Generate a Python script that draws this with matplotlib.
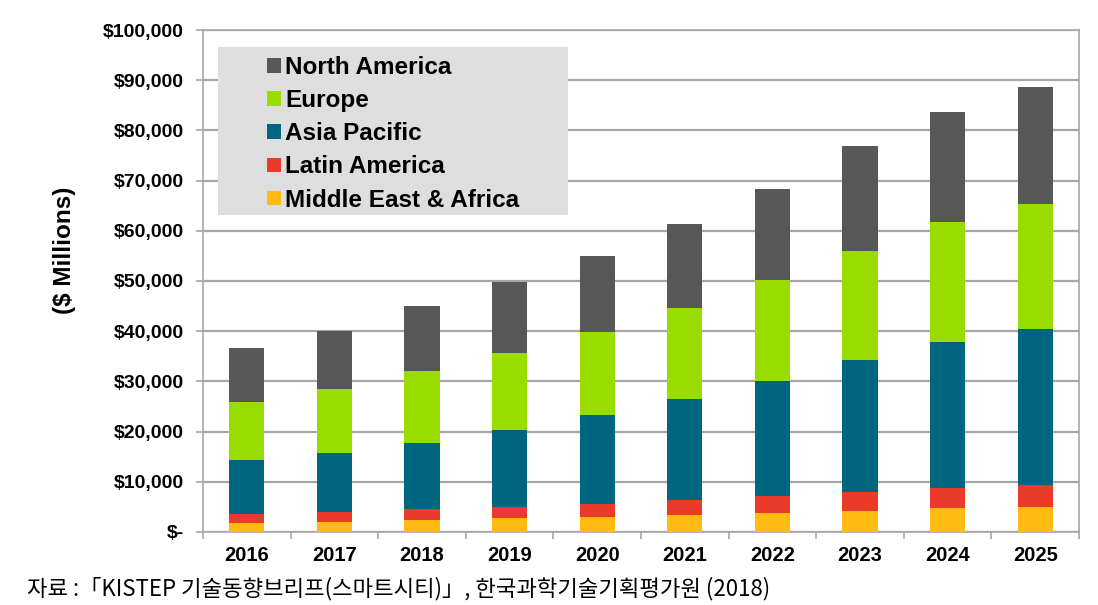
import matplotlib
matplotlib.use("Agg")
import matplotlib.pyplot as plt
from matplotlib.patches import Rectangle
from matplotlib.ticker import FuncFormatter, FixedLocator
import numpy as np

years = ["2016", "2017", "2018", "2019", "2020", "2021", "2022", "2023", "2024", "2025"]
mea = [1700, 2050, 2300, 2800, 3000, 3400, 3850, 4250, 4700, 4900]
latin = [1800, 1950, 2200, 2200, 2600, 3000, 3350, 3750, 4100, 4500]
asia = [10800, 11700, 13300, 15300, 17800, 20100, 22900, 26300, 29100, 31000]
europe = [11600, 12800, 14300, 15400, 16400, 18100, 20000, 21700, 23800, 24900]
north_america = [10800, 11500, 12900, 14100, 15200, 16700, 18200, 20800, 22000, 23300]

series = [
    ("Middle East & Africa", mea, "#ffbb11"),
    ("Latin America", latin, "#ea3a2a"),
    ("Asia Pacific", asia, "#00667f"),
    ("Europe", europe, "#99dd00"),
    ("North America", north_america, "#575757"),
]

caption = "자료 :「KISTEP 기술동향브리프(스마트시티)」, 한국과학기술기획평가원 (2018)"

fig = plt.figure(figsize=(10.98, 6.05), dpi=100)
ax = fig.add_axes([203 / 1098, 1 - 532 / 605, (1079 - 203) / 1098, (532 - 30) / 605])

x = np.arange(len(years))
bottom = np.zeros(len(years))
handles = {}
for name, vals, color in series:
    b = ax.bar(x, vals, 0.4, bottom=bottom, color=color, edgecolor="none", label=name, zorder=3)
    handles[name] = b
    bottom += np.array(vals)

ax.set_xlim(-0.5, len(years) - 0.5)
ax.set_ylim(0, 100000)
ax.set_yticks(np.arange(0, 100001, 10000))
ax.yaxis.set_major_formatter(FuncFormatter(lambda v, p: "$-" if v == 0 else "${:,.0f}".format(v)))
ax.grid(axis="y", color="#a6a6a6", linewidth=1.6, zorder=0)
ax.set_axisbelow(True)

ax.set_xticks(x)
ax.set_xticklabels(years)
ax.xaxis.set_minor_locator(FixedLocator(np.arange(-0.5, len(years), 1.0)))
ax.tick_params(axis="x", which="major", length=0, pad=10)
ax.tick_params(axis="x", which="minor", length=5, color="#a6a6a6", width=1.2)
ax.tick_params(axis="y", length=5, color="#a6a6a6", width=1.2, pad=9)

for lab in ax.get_xticklabels():
    lab.set_fontfamily("Liberation Sans")
    lab.set_fontweight("bold")
    lab.set_fontsize(14.5)
for lab in ax.get_yticklabels():
    lab.set_fontfamily("Liberation Sans")
    lab.set_fontweight("bold")
    lab.set_fontsize(14)

for s in ax.spines.values():
    s.set_color("#a6a6a6")
    s.set_linewidth(1.2)

ax.set_ylabel("($ Millions)", fontfamily="Liberation Sans", fontweight="bold", fontsize=17.5)
ax.yaxis.set_label_coords(-0.145, 0.562)

# legend background box
ax.add_patch(Rectangle((0.0171, 0.6315), 0.4, 0.335, transform=ax.transAxes,
                       facecolor="#dedede", edgecolor="none", zorder=4))
order = ["North America", "Europe", "Asia Pacific", "Latin America", "Middle East & Africa"]
leg = ax.legend([handles[n] for n in order], order, loc="upper left",
                bbox_to_anchor=(0.065, 0.963), frameon=False,
                prop={"family": "Liberation Sans", "weight": "bold", "size": 17.5},
                handlelength=0.55, handleheight=0.55, handletextpad=0.2,
                labelspacing=0.42, borderpad=0.3, borderaxespad=0.0)
leg.set_zorder(5)

fig.text(27 / 1098, 1 - 589 / 605, caption, fontfamily=["Noto Sans CJK KR", "DejaVu Sans"],
         fontsize=16, va="center", ha="left")

fig.savefig("out.png", dpi=100)
